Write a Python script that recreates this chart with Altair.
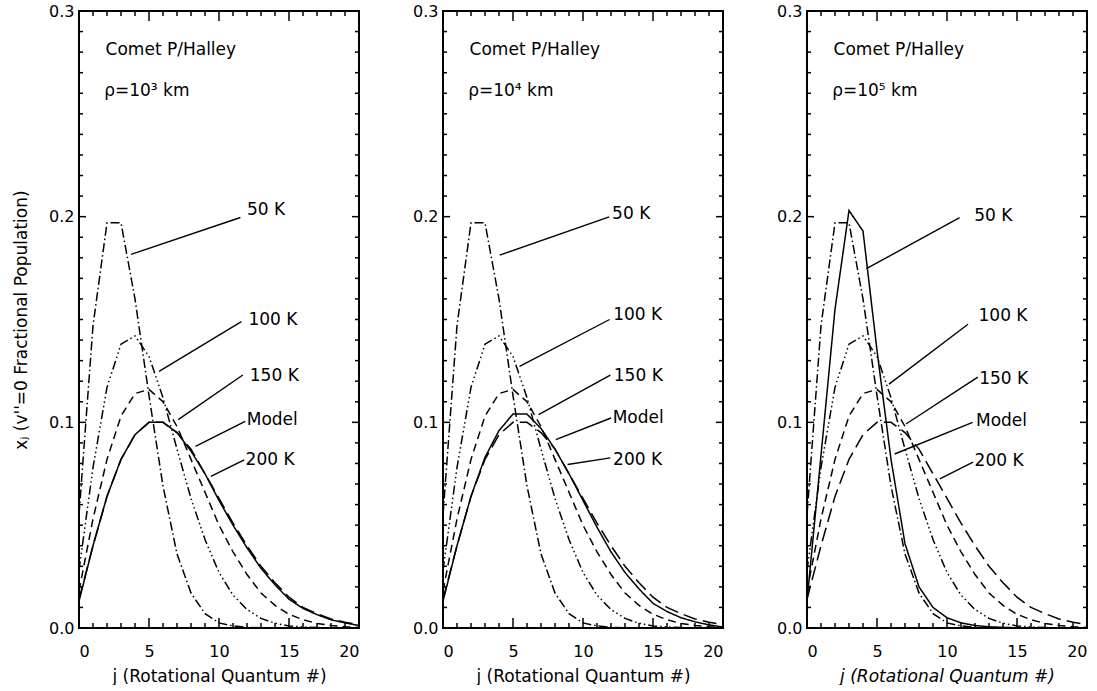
import altair as alt
import pandas as pd

FONT = "DejaVu Sans"

# ---- data ----
J = list(range(21))
T50 = [0.055, 0.147, 0.197, 0.197, 0.160, 0.113, 0.069, 0.036, 0.017, 0.007, 0.0025,
       0.001, 0.0003, 0.0001, 0, 0, 0, 0, 0, 0, 0]
T100 = [0.028, 0.078, 0.117, 0.138, 0.142, 0.132, 0.112, 0.087, 0.063, 0.043, 0.027,
        0.016, 0.009, 0.0047, 0.0023, 0.001, 0.0005, 0.0002, 0.0001, 0, 0]
T150 = [0.018, 0.053, 0.082, 0.103, 0.114, 0.116, 0.110, 0.098, 0.082, 0.066, 0.050,
        0.037, 0.026, 0.017, 0.011, 0.0067, 0.004, 0.0022, 0.0012, 0.0006, 0.0003]
T200 = [0.014, 0.040, 0.064, 0.082, 0.094, 0.100, 0.100, 0.095, 0.087, 0.075, 0.063,
        0.051, 0.040, 0.030, 0.022, 0.015, 0.010, 0.007, 0.0044, 0.0028, 0.0017]
MODEL_1 = [0.013, 0.040, 0.064, 0.082, 0.094, 0.100, 0.100, 0.095, 0.086, 0.075, 0.062,
           0.050, 0.039, 0.029, 0.021, 0.014, 0.0095, 0.0065, 0.004, 0.0025, 0.0012]
MODEL_2 = [0.013, 0.040, 0.064, 0.083, 0.096, 0.104, 0.104, 0.097, 0.087, 0.075, 0.062,
           0.049, 0.037, 0.027, 0.019, 0.012, 0.008, 0.005, 0.003, 0.0015, 0.0005]
MODEL_3 = [0.013, 0.084, 0.155, 0.203, 0.193, 0.135, 0.082, 0.041, 0.020, 0.010, 0.005,
           0.0025, 0.0012, 0.0006, 0.0003, 0.0001, 0, 0, 0, 0, 0]
MODELS = [MODEL_1, MODEL_2, MODEL_3]

SERIES = ["50 K", "100 K", "150 K", "200 K", "Model"]
DASHES = [[9, 3, 1.5, 3], [9, 3, 1.5, 3, 1.5, 3, 1.5, 3], [8, 5], [14, 6], [1, 0]]

RHO = ["ρ=10³ km", "ρ=10⁴ km", "ρ=10⁵ km"]
HEADER = "Comet P/Halley"
HEADER_J = [1.9, 1.9, 1.9]
HEADER_V = [0.281, 0.281, 0.281]
RHO_J = [1.8, 1.8, 1.8]
RHO_V = [0.261, 0.261, 0.261]

LABELS = ["50 K", "100 K", "150 K", "Model", "200 K"]
LABEL_J = [[12.0, 12.1, 12.2, 11.98, 11.9],
           [12.08, 12.16, 12.2, 12.12, 12.15],
           [11.95, 12.25, 12.3, 12.07, 11.97]]
LABEL_V = [[0.2034, 0.1497, 0.1225, 0.1013, 0.0818],
           [0.2015, 0.1522, 0.1223, 0.1021, 0.0819],
           [0.2003, 0.1518, 0.1211, 0.1008, 0.0814]]
# leader lines: curve end (j1, v1) -> label end (j2, v2)
LEAD_J1 = [[3.72, 5.72, 7.09, 8.32, 9.42],
           [4.05, 5.47, 6.83, 8.06, 8.9],
           [4.24, 5.86, 7.07, 6.26, 9.49]]
LEAD_V1 = [[0.1817, 0.1248, 0.1013, 0.0883, 0.0737],
           [0.1813, 0.1272, 0.1037, 0.0916, 0.0795],
           [0.1747, 0.1186, 0.0992, 0.0846, 0.0725]]
LEAD_J2 = [[11.53, 11.6, 11.7, 11.87, 11.8],
           [11.87, 11.9, 11.95, 12.0, 11.95],
           [10.9, 11.5, 12.2, 11.83, 11.86]]
LEAD_V2 = [[0.1996, 0.149, 0.123, 0.1005, 0.0818],
           [0.1999, 0.150, 0.123, 0.1021, 0.0827],
           [0.1995, 0.1477, 0.122, 0.100, 0.0806]]

X_MAJOR = [0, 5, 10, 15, 20]
X_MINOR = [1, 2, 3, 4, 6, 7, 8, 9, 11, 12, 13, 14, 16, 17, 18, 19]
Y_MAJOR = [0.0, 0.1, 0.2, 0.3]
Y_MINOR = [0.01, 0.02, 0.03, 0.04, 0.05, 0.06, 0.07, 0.08, 0.09,
           0.11, 0.12, 0.13, 0.14, 0.15, 0.16, 0.17, 0.18, 0.19,
           0.21, 0.22, 0.23, 0.24, 0.25, 0.26, 0.27, 0.28, 0.29]
X_DOMAIN = [0, 20]
Y_DOMAIN = [0, 0.3]

W, H = 280, 617
# tick lengths in pixels, converted to data units below
XT_MAJ, XT_MIN, YT_MAJ, YT_MIN = 10, 5, 7, 4


def panel(i):
    rows = []
    for name, vals in zip(SERIES, [T50, T100, T150, T200, MODELS[i]]):
        for jj, vv in zip(J, vals):
            rows.append({"j": jj, "v": vv, "series": name})
    curves = pd.DataFrame(rows)

    xt = "j (Rotational Quantum #)"
    yt = "xⱼ (v''=0 Fractional Population)"
    x_axis = alt.Axis(values=X_MAJOR, format="d", ticks=False, grid=False, domain=False,
                      labelFontSize=16, labelFont=FONT, labelPadding=15, labelColor="black",
                      titleFontSize=17, titleFont=FONT, titleFontWeight="normal",
                      titleColor="black", titlePadding=9,
                      titleFontStyle="italic" if i == 2 else "normal")
    y_kw = dict(values=Y_MAJOR, format=".1f", ticks=False, grid=False, domain=False,
                labelFontSize=16, labelFont=FONT, labelPadding=5, labelColor="black",
                titleFontSize=17, titleFont=FONT, titleFontWeight="normal",
                titleColor="black", titlePadding=18)
    x_enc = alt.X("j:Q", scale=alt.Scale(domain=X_DOMAIN, nice=False, zero=False),
                  axis=x_axis, title=xt)
    if i == 0:
        y_enc = alt.Y("v:Q", scale=alt.Scale(domain=Y_DOMAIN, nice=False),
                      axis=alt.Axis(**y_kw), title=yt)
    else:
        y_enc = alt.Y("v:Q", scale=alt.Scale(domain=Y_DOMAIN, nice=False),
                      axis=alt.Axis(**y_kw), title=None)

    lines = alt.Chart(curves).mark_line(color="black", strokeWidth=1.5).encode(
        x=x_enc, y=y_enc,
        strokeDash=alt.StrokeDash("series:N", scale=alt.Scale(domain=SERIES, range=DASHES),
                                  legend=None),
        detail="series:N",
    )

    vy = (Y_DOMAIN[1] - Y_DOMAIN[0]) / H   # data units per pixel (y)
    vx = (X_DOMAIN[1] - X_DOMAIN[0]) / W   # data units per pixel (x)
    tk = dict(color="black", strokeWidth=1.5)
    xmaj = pd.DataFrame({"j": [float(v) for v in X_MAJOR]})
    xmin = pd.DataFrame({"j": [float(v) for v in X_MINOR]})
    ymaj = pd.DataFrame({"v": Y_MAJOR})
    ymin = pd.DataFrame({"v": Y_MINOR})
    lo, hi = Y_DOMAIN
    l, r = X_DOMAIN

    def xticks(df, length, at_top):
        if at_top:
            calc = dict(v=f"{hi}", v2=f"{hi - length * vy}")
        else:
            calc = dict(v=f"{lo}", v2=f"{lo + length * vy}")
        return alt.Chart(df).transform_calculate(**calc).mark_rule(**tk).encode(
            x=x_enc, y=y_enc, y2="v2:Q")

    def yticks(df, length, at_right):
        if at_right:
            calc = dict(j=f"{r}", j2=f"{r - length * vx}")
        else:
            calc = dict(j=f"{l}", j2=f"{l + length * vx}")
        return alt.Chart(df).transform_calculate(**calc).mark_rule(**tk).encode(
            x=x_enc, x2="j2:Q", y=y_enc)

    ticks = [xticks(xmaj, XT_MAJ, False), xticks(xmaj, XT_MAJ, True),
             xticks(xmin, XT_MIN, False), xticks(xmin, XT_MIN, True),
             yticks(ymaj, YT_MAJ, False), yticks(ymaj, YT_MAJ, True),
             yticks(ymin, YT_MIN, False), yticks(ymin, YT_MIN, True)]

    frame_df = pd.DataFrame({"j": [float(l), float(l), float(l), float(r)],
                             "v": [lo, hi, lo, lo],
                             "j2": [float(r), float(r), float(l), float(r)],
                             "v2": [lo, hi, hi, hi]})
    frame = alt.Chart(frame_df).mark_rule(color="black", strokeWidth=2).encode(
        x=x_enc, y=y_enc, x2="j2:Q", y2="v2:Q")

    lead = pd.DataFrame({"j": LEAD_J1[i], "v": LEAD_V1[i], "j2": LEAD_J2[i], "v2": LEAD_V2[i]})
    leaders = alt.Chart(lead).mark_rule(color="black", strokeWidth=1.4).encode(
        x=x_enc, y=y_enc, x2="j2:Q", y2="v2:Q")

    lab = pd.DataFrame({"j": LABEL_J[i], "v": LABEL_V[i], "label": LABELS})
    labels = alt.Chart(lab).mark_text(align="left", baseline="middle", fontSize=17,
                                      font=FONT, color="black").encode(
        x=x_enc, y=y_enc, text="label:N")

    head = pd.DataFrame({"j": [HEADER_J[i], RHO_J[i]], "v": [HEADER_V[i], RHO_V[i]],
                         "label": [HEADER, RHO[i]]})
    heads = alt.Chart(head).mark_text(align="left", baseline="middle", fontSize=17,
                                      font=FONT, color="black").encode(
        x=x_enc, y=y_enc, text="label:N")

    return alt.layer(lines, *ticks, frame, leaders, labels, heads).properties(width=W, height=H)


chart = alt.hconcat(panel(0), panel(1), panel(2), spacing=48).properties(
    padding={"left": 11, "top": 2, "right": 5, "bottom": 0},
    background="white",
).configure_view(stroke="black", strokeWidth=2)

chart.save("out.html", embed_options={"renderer": "svg", "actions": False})
